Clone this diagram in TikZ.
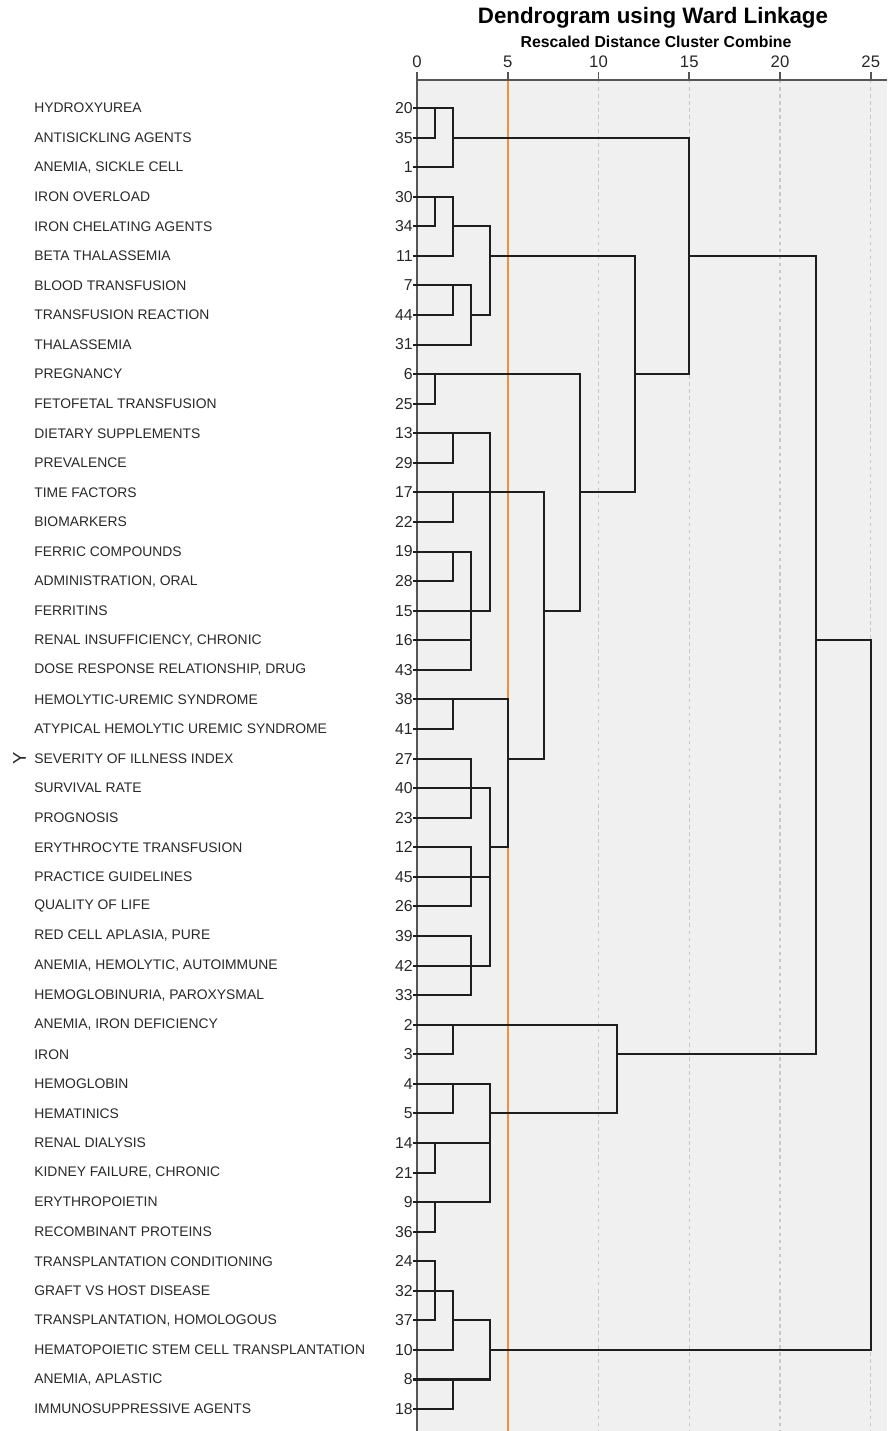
\documentclass[tikz,border=0pt]{standalone}
\usepackage{fontspec}
\setmainfont{Liberation Sans}
\definecolor{bggray}{RGB}{240,240,240}
\definecolor{gridgray}{RGB}{200,200,200}
\definecolor{axisgray}{RGB}{85,85,85}
\definecolor{linegray}{RGB}{30,30,30}
\definecolor{cutorange}{RGB}{242,145,58}
\definecolor{textgray}{RGB}{40,40,40}
\begin{document}
\begin{tikzpicture}[x=0.363cm, y=0.5914cm]
              \tikzstyle{every node}+=[inner sep=0pt]
              \tikzstyle{lab}=[anchor=west, text=textgray, font=\fontsize{7.9}{9}\selectfont]
              \tikzstyle{num}=[anchor=east, text=textgray, font=\fontsize{9}{10}\selectfont]
              \tikzstyle{ticklab}=[text=textgray, font=\fontsize{9.5}{11}\selectfont]
              \tikzstyle{link}=[linegray, line width=1.15pt]
              \tikzstyle{grid}=[gridgray, line width=0.8pt, dash pattern=on 2pt off 2pt]
              \useasboundingbox (-22.975,3.652) rectangle (25.895,-44.742);
              \fill [bggray] (0,0.947) rectangle (25.895,-44.742);
              \draw [grid] (10,0.947) -- (10,-44.742);
              \draw [grid] (15,0.947) -- (15,-44.742);
              \draw [grid] (20,0.947) -- (20,-44.742);
              \draw [grid] (25,0.947) -- (25,-44.742);
              \draw [cutorange, line width=1.1pt] (5,0.947) -- (5,-44.742);
              \draw [axisgray, line width=0.9pt] (0,0.947) -- (25.895,0.947);
              \draw [axisgray, line width=0.9pt] (0,0.947) -- (0,-44.742);
              \draw [axisgray, line width=0.9pt] (0,0.947) -- (0,1.217);
              \draw [axisgray, line width=0.9pt] (5,0.947) -- (5,1.217);
              \draw [axisgray, line width=0.9pt] (10,0.947) -- (10,1.217);
              \draw [axisgray, line width=0.9pt] (15,0.947) -- (15,1.217);
              \draw [axisgray, line width=0.9pt] (20,0.947) -- (20,1.217);
              \draw [axisgray, line width=0.9pt] (25,0.947) -- (25,1.217);
              \node [ticklab] (tk0) at (0,1.57) {0};
              \node [ticklab] (tk5) at (5,1.57) {5};
              \node [ticklab] (tk10) at (10,1.57) {10};
              \node [ticklab] (tk15) at (15,1.57) {15};
              \node [ticklab] (tk20) at (20,1.57) {20};
              \node [ticklab] (tk25) at (25,1.57) {25};
              \node [font=\bfseries\fontsize{12.7}{14}\selectfont] (title) at (13.0,3.04) {Dendrogram using Ward Linkage};
              \node [font=\bfseries\fontsize{9}{10}\selectfont] (subtitle) at (13.17,2.23) {Rescaled Distance Cluster Combine};
              \node [text=textgray, font=\fontsize{10.5}{12}\selectfont] (mark) at (-21.9,-22) {\rotatebox{90}{Y}};
              \node [lab] (l20) at (-21.1,0) {HYDROXYUREA};
              \node [num] (n20) at (-0.22,0) {20};
              \node [lab] (l35) at (-21.1,-1) {ANTISICKLING AGENTS};
              \node [num] (n35) at (-0.22,-1) {35};
              \node [lab] (l1) at (-21.1,-2) {ANEMIA, SICKLE CELL};
              \node [num] (n1) at (-0.22,-2) {1};
              \node [lab] (l30) at (-21.1,-3) {IRON OVERLOAD};
              \node [num] (n30) at (-0.22,-3) {30};
              \node [lab] (l34) at (-21.1,-4) {IRON CHELATING AGENTS};
              \node [num] (n34) at (-0.22,-4) {34};
              \node [lab] (l11) at (-21.1,-5) {BETA THALASSEMIA};
              \node [num] (n11) at (-0.22,-5) {11};
              \node [lab] (l7) at (-21.1,-6) {BLOOD TRANSFUSION};
              \node [num] (n7) at (-0.22,-6) {7};
              \node [lab] (l44) at (-21.1,-7) {TRANSFUSION REACTION};
              \node [num] (n44) at (-0.22,-7) {44};
              \node [lab] (l31) at (-21.1,-8) {THALASSEMIA};
              \node [num] (n31) at (-0.22,-8) {31};
              \node [lab] (l6) at (-21.1,-9) {PREGNANCY};
              \node [num] (n6) at (-0.22,-9) {6};
              \node [lab] (l25) at (-21.1,-10) {FETOFETAL TRANSFUSION};
              \node [num] (n25) at (-0.22,-10) {25};
              \node [lab] (l13) at (-21.1,-11) {DIETARY SUPPLEMENTS};
              \node [num] (n13) at (-0.22,-11) {13};
              \node [lab] (l29) at (-21.1,-12) {PREVALENCE};
              \node [num] (n29) at (-0.22,-12) {29};
              \node [lab] (l17) at (-21.1,-13) {TIME FACTORS};
              \node [num] (n17) at (-0.22,-13) {17};
              \node [lab] (l22) at (-21.1,-14) {BIOMARKERS};
              \node [num] (n22) at (-0.22,-14) {22};
              \node [lab] (l19) at (-21.1,-15) {FERRIC COMPOUNDS};
              \node [num] (n19) at (-0.22,-15) {19};
              \node [lab] (l28) at (-21.1,-16) {ADMINISTRATION, ORAL};
              \node [num] (n28) at (-0.22,-16) {28};
              \node [lab] (l15) at (-21.1,-17) {FERRITINS};
              \node [num] (n15) at (-0.22,-17) {15};
              \node [lab] (l16) at (-21.1,-18) {RENAL INSUFFICIENCY, CHRONIC};
              \node [num] (n16) at (-0.22,-18) {16};
              \node [lab] (l43) at (-21.1,-19) {DOSE RESPONSE RELATIONSHIP, DRUG};
              \node [num] (n43) at (-0.22,-19) {43};
              \node [lab] (l38) at (-21.1,-20) {HEMOLYTIC-UREMIC SYNDROME};
              \node [num] (n38) at (-0.22,-20) {38};
              \node [lab] (l41) at (-21.1,-21) {ATYPICAL HEMOLYTIC UREMIC SYNDROME};
              \node [num] (n41) at (-0.22,-21) {41};
              \node [lab] (l27) at (-21.1,-22) {SEVERITY OF ILLNESS INDEX};
              \node [num] (n27) at (-0.22,-22) {27};
              \node [lab] (l40) at (-21.1,-23) {SURVIVAL RATE};
              \node [num] (n40) at (-0.22,-23) {40};
              \node [lab] (l23) at (-21.1,-24) {PROGNOSIS};
              \node [num] (n23) at (-0.22,-24) {23};
              \node [lab] (l12) at (-21.1,-25) {ERYTHROCYTE TRANSFUSION};
              \node [num] (n12) at (-0.22,-25) {12};
              \node [lab] (l45) at (-21.1,-26) {PRACTICE GUIDELINES};
              \node [num] (n45) at (-0.22,-26) {45};
              \node [lab] (l26) at (-21.1,-27) {QUALITY OF LIFE};
              \node [num] (n26) at (-0.22,-27) {26};
              \node [lab] (l39) at (-21.1,-28) {RED CELL APLASIA, PURE};
              \node [num] (n39) at (-0.22,-28) {39};
              \node [lab] (l42) at (-21.1,-29) {ANEMIA, HEMOLYTIC, AUTOIMMUNE};
              \node [num] (n42) at (-0.22,-29) {42};
              \node [lab] (l33) at (-21.1,-30) {HEMOGLOBINURIA, PAROXYSMAL};
              \node [num] (n33) at (-0.22,-30) {33};
              \node [lab] (l2) at (-21.1,-31) {ANEMIA, IRON DEFICIENCY};
              \node [num] (n2) at (-0.22,-31) {2};
              \node [lab] (l3) at (-21.1,-32) {IRON};
              \node [num] (n3) at (-0.22,-32) {3};
              \node [lab] (l4) at (-21.1,-33) {HEMOGLOBIN};
              \node [num] (n4) at (-0.22,-33) {4};
              \node [lab] (l5) at (-21.1,-34) {HEMATINICS};
              \node [num] (n5) at (-0.22,-34) {5};
              \node [lab] (l14) at (-21.1,-35) {RENAL DIALYSIS};
              \node [num] (n14) at (-0.22,-35) {14};
              \node [lab] (l21) at (-21.1,-36) {KIDNEY FAILURE, CHRONIC};
              \node [num] (n21) at (-0.22,-36) {21};
              \node [lab] (l9) at (-21.1,-37) {ERYTHROPOIETIN};
              \node [num] (n9) at (-0.22,-37) {9};
              \node [lab] (l36) at (-21.1,-38) {RECOMBINANT PROTEINS};
              \node [num] (n36) at (-0.22,-38) {36};
              \node [lab] (l24) at (-21.1,-39) {TRANSPLANTATION CONDITIONING};
              \node [num] (n24) at (-0.22,-39) {24};
              \node [lab] (l32) at (-21.1,-40) {GRAFT VS HOST DISEASE};
              \node [num] (n32) at (-0.22,-40) {32};
              \node [lab] (l37) at (-21.1,-41) {TRANSPLANTATION, HOMOLOGOUS};
              \node [num] (n37) at (-0.22,-41) {37};
              \node [lab] (l10) at (-21.1,-42) {HEMATOPOIETIC STEM CELL TRANSPLANTATION};
              \node [num] (n10) at (-0.22,-42) {10};
              \node [lab] (l8) at (-21.1,-43) {ANEMIA, APLASTIC};
              \node [num] (n8) at (-0.22,-43) {8};
              \node [lab] (l18) at (-21.1,-44) {IMMUNOSUPPRESSIVE AGENTS};
              \node [num] (n18) at (-0.22,-44) {18};
              \coordinate (a1) at (1,0);
              \coordinate (a2) at (2,-1);
              \coordinate (b1) at (1,-3);
              \coordinate (b2) at (2,-4);
              \coordinate (b3) at (2,-6);
              \coordinate (b4) at (3,-7);
              \coordinate (b5) at (4,-5);
              \coordinate (c1) at (1,-9);
              \coordinate (d1) at (2,-11);
              \coordinate (d2) at (2,-13);
              \coordinate (d3) at (2,-15);
              \coordinate (d4) at (3,-18);
              \coordinate (d5) at (3,-16);
              \coordinate (d6) at (3,-17);
              \coordinate (d7) at (4,-15);
              \coordinate (d8) at (4,-13);
              \coordinate (e1) at (2,-20);
              \coordinate (e2) at (3,-22);
              \coordinate (e3) at (3,-23);
              \coordinate (e4) at (3,-25);
              \coordinate (e5) at (3,-26);
              \coordinate (e6) at (3,-28);
              \coordinate (e7) at (3,-29);
              \coordinate (e8) at (4,-27);
              \coordinate (e9) at (4,-25);
              \coordinate (e10) at (5,-22);
              \coordinate (f1) at (7,-17);
              \coordinate (f2) at (9,-13);
              \coordinate (f3) at (12,-9);
              \coordinate (f4) at (15,-5);
              \coordinate (g1) at (2,-31);
              \coordinate (g2) at (2,-33);
              \coordinate (g3) at (1,-35);
              \coordinate (g4) at (1,-37);
              \coordinate (g5) at (4,-36);
              \coordinate (g6) at (4,-34);
              \coordinate (g7) at (11,-32);
              \coordinate (h1) at (1,-39);
              \coordinate (h2) at (1,-40);
              \coordinate (h3) at (2,-41);
              \coordinate (h4) at (2,-43);
              \coordinate (h5) at (4,-42);
              \coordinate (t1) at (22,-18);
              \coordinate (t2) at (25,-30);
              \draw [link] (n20) -| (a1) |- (n35);
              \draw [link] (a1) -| (a2) |- (n1);
              \draw [link] (n30) -| (b1) |- (n34);
              \draw [link] (b1) -| (b2) |- (n11);
              \draw [link] (n7) -| (b3) |- (n44);
              \draw [link] (b3) -| (b4) |- (n31);
              \draw [link] (b2) -| (b5) |- (b4);
              \draw [link] (n6) -| (c1) |- (n25);
              \draw [link] (n13) -| (d1) |- (n29);
              \draw [link] (n17) -| (d2) |- (n22);
              \draw [link] (n19) -| (d3) |- (n28);
              \draw [link] (n16) -| (d4) |- (n43);
              \draw [link] (d3) -| (d5) |- (n15);
              \draw [link] (d5) -| (d6) |- (d4);
              \draw [link] (d2) -| (d7) |- (d6);
              \draw [link] (d1) -| (d8) |- (d7);
              \draw [link] (n38) -| (e1) |- (n41);
              \draw [link] (n27) -| (e2) |- (n40);
              \draw [link] (e2) -| (e3) |- (n23);
              \draw [link] (n12) -| (e4) |- (n45);
              \draw [link] (e4) -| (e5) |- (n26);
              \draw [link] (n39) -| (e6) |- (n42);
              \draw [link] (e6) -| (e7) |- (n33);
              \draw [link] (e5) -| (e8) |- (e7);
              \draw [link] (e3) -| (e9) |- (e8);
              \draw [link] (e1) -| (e10) |- (e9);
              \draw [link] (d8) -| (f1) |- (e10);
              \draw [link] (c1) -| (f2) |- (f1);
              \draw [link] (b5) -| (f3) |- (f2);
              \draw [link] (a2) -| (f4) |- (f3);
              \draw [link] (n2) -| (g1) |- (n3);
              \draw [link] (n4) -| (g2) |- (n5);
              \draw [link] (n14) -| (g3) |- (n21);
              \draw [link] (n9) -| (g4) |- (n36);
              \draw [link] (g3) -| (g5) |- (g4);
              \draw [link] (g2) -| (g6) |- (g5);
              \draw [link] (g1) -| (g7) |- (g6);
              \draw [link] (n24) -| (h1) |- (n32);
              \draw [link] (h1) -| (h2) |- (n37);
              \draw [link] (h2) -| (h3) |- (n10);
              \draw [link] (n8) -| (h4) |- (n18);
              \draw [link] (h3) -| (h5) |- (h4);
              \draw [link] (f4) -| (t1) |- (g7);
              \draw [link] (t1) -| (t2) |- (h5);
            \end{tikzpicture}
\end{document}
